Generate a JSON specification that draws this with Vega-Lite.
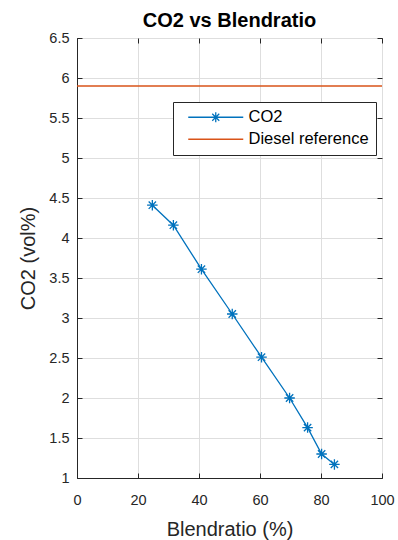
{
  "$schema": "https://vega.github.io/schema/vega-lite/v6.json",
  "width": 305,
  "height": 440,
  "autosize": {"type": "none"},
  "padding": {"left": 77, "top": 38, "right": 16, "bottom": 62},
  "background": "white",
  "title": {"text": "CO2 vs Blendratio", "font": "Liberation Sans", "fontSize": 20, "fontWeight": "bold", "color": "#000000", "anchor": "middle", "offset": -1},
  "config": {
    "view": {"stroke": "#262626", "strokeWidth": 1},
    "axis": {
      "labelFont": "Liberation Sans", "labelFontSize": 14.5, "labelColor": "#262626", "labelOverlap": false, "labelFlush": false,
      "titleFont": "Liberation Sans", "titleFontSize": 20, "titleFontWeight": "normal", "titleColor": "#262626",
      "domainColor": "#262626", "tickColor": "#262626", "tickSize": -5,
      "gridColor": "#dedede", "gridWidth": 1
    }
  },
  "resolve": {"axis": {"x": "independent", "y": "independent"}},
  "datasets": {
    "co2": [
      {"blend": 24.7, "co2": 4.41, "series": "CO2"},
      {"blend": 31.6, "co2": 4.16, "series": "CO2"},
      {"blend": 40.8, "co2": 3.61, "series": "CO2"},
      {"blend": 50.9, "co2": 3.05, "series": "CO2"},
      {"blend": 60.5, "co2": 2.51, "series": "CO2"},
      {"blend": 69.7, "co2": 2.0, "series": "CO2"},
      {"blend": 75.6, "co2": 1.63, "series": "CO2"},
      {"blend": 80.2, "co2": 1.3, "series": "CO2"},
      {"blend": 84.4, "co2": 1.17, "series": "CO2"}
    ],
    "ref": [
      {"co2": 5.9, "series": "Diesel reference"}
    ]
  },
  "layer": [
    {
      "data": {"name": "co2"},
      "mark": {"type": "line", "strokeWidth": 1.3},
      "encoding": {
        "x": {"field": "blend", "type": "quantitative", "scale": {"domain": [0, 100], "nice": false, "zero": false},
              "axis": {"values": [0, 20, 40, 60, 80, 100], "title": "Blendratio (%)", "labelPadding": 20, "titlePadding": 13}},
        "y": {"field": "co2", "type": "quantitative", "scale": {"domain": [1, 6.5], "nice": false, "zero": false},
              "axis": {"values": [1, 1.5, 2, 2.5, 3, 3.5, 4, 4.5, 5, 5.5, 6, 6.5], "format": "~g", "title": "CO2 (vol%)", "labelPadding": 13, "titlePadding": 10}},
        "color": {"field": "series", "type": "nominal",
                  "scale": {"domain": ["CO2", "Diesel reference"], "range": ["#0072BD", "#D95319"]},
                  "legend": {
                    "title": null, "orient": "none", "legendX": 96, "legendY": 64,
                    "fillColor": "white", "strokeColor": "#262626", "padding": 7,
                    "labelFont": "Liberation Sans", "labelFontSize": 16.5, "labelColor": "#000000",
                    "symbolSize": 100, "symbolStrokeWidth": 1.3, "symbolOffset": 5, "labelOffset": 47, "rowPadding": 5,
                    "symbolType": "M-1,0H10",
                    "encode": {"symbols": {"update": {
                      "shape": {"signal": "datum.value === 'CO2' ? 'M-1,0H10M4.5,-1V1M3.8,-0.7L5.2,0.7M3.8,0.7L5.2,-0.7' : 'M-1,0H10'"},
                      "fill": {"value": "transparent"}
                    }}}
                  }}
      }
    },
    {
      "data": {"name": "co2"},
      "mark": {"type": "point", "shape": "M-1,0H1M0,-1V1M-0.7,-0.7L0.7,0.7M-0.7,0.7L0.7,-0.7", "filled": false, "size": 110, "strokeWidth": 1.3, "color": "#0072BD", "opacity": 1},
      "encoding": {
        "x": {"field": "blend", "type": "quantitative", "axis": {"orient": "top", "values": [0, 20, 40, 60, 80, 100], "labels": false, "grid": false, "title": null, "domain": false}},
        "y": {"field": "co2", "type": "quantitative", "axis": {"orient": "right", "values": [1, 1.5, 2, 2.5, 3, 3.5, 4, 4.5, 5, 5.5, 6, 6.5], "labels": false, "grid": false, "title": null, "domain": false}}
      }
    },
    {
      "data": {"name": "ref"},
      "mark": {"type": "rule", "strokeWidth": 1.3},
      "encoding": {
        "y": {"field": "co2", "type": "quantitative", "axis": null},
        "color": {"field": "series", "type": "nominal"}
      }
    }
  ]
}
